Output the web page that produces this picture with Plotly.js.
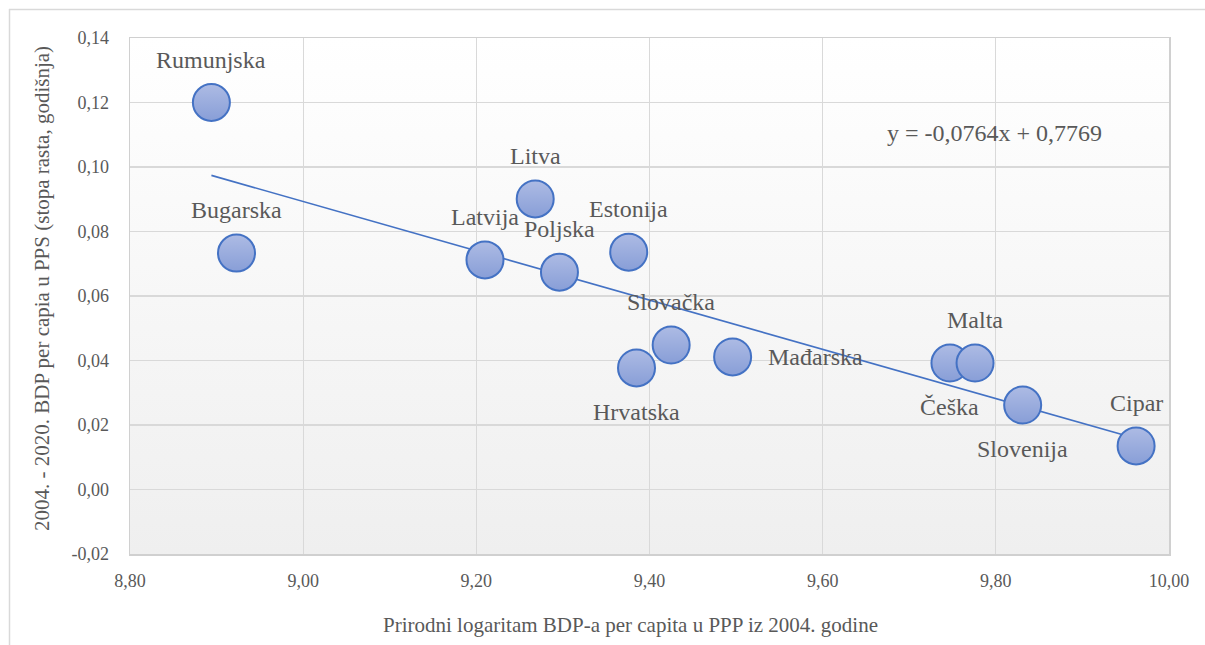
<!DOCTYPE html>
<html>
<head>
<meta charset="utf-8">
<script src="https://cdn.plot.ly/plotly-3.0.1.min.js"></script>
<style>
  html, body { margin: 0; padding: 0; background: #ffffff; }
  #chart { width: 1205px; height: 645px; }
</style>
</head>
<body>
<div id="chart"></div>
<script>
// ---- data ----
const countries = ['Rumunjska', 'Bugarska', 'Litva', 'Latvija', 'Poljska', 'Estonija', 'Slovačka',
                   'Hrvatska', 'Mađarska', 'Češka', 'Malta', 'Slovenija', 'Cipar'];
const lnGdp2004 = [8.894, 8.923, 9.268, 9.210, 9.296, 9.376, 9.425,
                   9.385, 9.496, 9.747, 9.776, 9.831, 9.962];
const growth = [0.1200, 0.0733, 0.0901, 0.0712, 0.0674, 0.0736, 0.0448,
                0.0377, 0.0411, 0.0392, 0.0392, 0.0262, 0.0135];
const trendSlope = -0.0764;
const trendIntercept = 0.7769;

const xTickVals = [8.80, 9.00, 9.20, 9.40, 9.60, 9.80, 10.00];
const xTickText = ['8,80', '9,00', '9,20', '9,40', '9,60', '9,80', '10,00'];
const yTickVals = [-0.02, 0.00, 0.02, 0.04, 0.06, 0.08, 0.10, 0.12, 0.14];
const yTickText = ['-0,02', '0,00', '0,02', '0,04', '0,06', '0,08', '0,10', '0,12', '0,14'];

const xTitle = 'Prirodni logaritam BDP-a per capita u PPP iz 2004. godine';
const yTitle = '2004. - 2020. BDP per capia u PPS (stopa rasta, godišnja)';

// ---- label placement (style only) ----
const labelPlacement = ['top', 'top', 'top', 'top', 'top', 'top', 'top',
                        'bottom', 'right', 'bottom', 'top', 'bottom', 'top'];

const textColor = '#595959';
const serif = 'Liberation Serif';

// trendline across the data range, from the equation shown on the chart
const xMin = Math.min(...lnGdp2004), xMax = Math.max(...lnGdp2004);
const trendX = [xMin, xMax];
const trendY = trendX.map(v => trendSlope * v + trendIntercept);

const fmt = v => Math.abs(v).toFixed(4).replace('.', ',');
const eqText = 'y = ' + (trendSlope < 0 ? '-' : '') + fmt(trendSlope) + 'x ' +
               (trendIntercept < 0 ? '- ' : '+ ') + fmt(trendIntercept);

const traces = [
  {
    x: trendX, y: trendY, type: 'scatter', mode: 'lines',
    line: { color: '#4472C4', width: 1.6 },
    hoverinfo: 'skip', showlegend: false
  },
  {
    x: lnGdp2004, y: growth, type: 'scatter', mode: 'markers',
    text: countries,
    marker: {
      size: 37,
      color: '#adbbe4',
      gradient: { type: 'vertical', color: '#889ed7' },
      line: { color: '#4472C4', width: 2 }
    },
    showlegend: false
  }
];

const L = 130, R = 1169, T = 38, B = 554, W = 1205, H = 645;
const px = v => (v - L) / (R - L);
const py = v => (B - v) / (B - T);

const annotations = countries.map((name, i) => {
  const p = labelPlacement[i];
  return {
    x: lnGdp2004[i], y: growth[i], xref: 'x', yref: 'y',
    text: name, showarrow: false,
    xanchor: p === 'right' ? 'left' : 'center',
    yanchor: 'middle',
    xshift: p === 'right' ? 33 : 0,
    yshift: p === 'top' ? 43 : (p === 'bottom' ? -44 : 0),
    font: { family: serif, size: 24, color: textColor }
  };
});
annotations.push({
  x: 9.798, y: 0.1105, xref: 'x', yref: 'y', text: eqText, showarrow: false,
  xanchor: 'center', yanchor: 'middle',
  font: { family: serif, size: 24, color: textColor }
});
// axis titles
annotations.push({
  x: px(630), y: py(625), xref: 'paper', yref: 'paper', text: xTitle, showarrow: false,
  xanchor: 'center', yanchor: 'middle',
  font: { family: serif, size: 21, color: textColor }
});
annotations.push({
  x: px(42), y: py(289), xref: 'paper', yref: 'paper', text: yTitle, showarrow: false,
  textangle: -90, xanchor: 'center', yanchor: 'middle',
  font: { family: serif, size: 21, color: textColor }
});

// plot area background gradient (white to light gray), as an SVG data URI
const gradSvg = '<svg xmlns="http://www.w3.org/2000/svg" width="10" height="100" preserveAspectRatio="none">' +
  '<defs><linearGradient id="g" x1="0" y1="0" x2="0" y2="1">' +
  '<stop offset="0" stop-color="#ffffff"/><stop offset="1" stop-color="#efefef"/>' +
  '</linearGradient></defs><rect width="10" height="100" fill="url(#g)"/></svg>';
const gradUri = 'data:image/svg+xml;charset=utf-8,' + encodeURIComponent(gradSvg);

const layout = {
  width: W, height: H,
  margin: { l: L, r: W - R, t: T, b: H - B, pad: 0 },
  paper_bgcolor: '#ffffff',
  plot_bgcolor: 'rgba(0,0,0,0)',
  separators: ',.',
  font: { family: serif, color: textColor, size: 18 },
  xaxis: {
    range: [8.80, 10.00], tickvals: xTickVals, ticktext: xTickText,
    showgrid: true, gridcolor: '#d9d9d9', gridwidth: 1.3,
    zeroline: false, showline: true, linecolor: '#d0d0d0', linewidth: 1.5, mirror: true,
    ticks: '', ticklabelstandoff: 10,
    tickfont: { family: serif, size: 18, color: textColor },
    automargin: false
  },
  yaxis: {
    range: [-0.02, 0.14], tickvals: yTickVals, ticktext: yTickText,
    showgrid: true, gridcolor: '#d9d9d9', gridwidth: 1.3,
    zeroline: false, showline: true, linecolor: '#d0d0d0', linewidth: 1.5, mirror: true,
    ticks: '', ticklabelstandoff: 16,
    tickfont: { family: serif, size: 18, color: textColor },
    automargin: false
  },
  images: [{
    source: gradUri, xref: 'paper', yref: 'paper', x: 0, y: 1, sizex: 1, sizey: 1,
    xanchor: 'left', yanchor: 'top', sizing: 'stretch', layer: 'below'
  }],
  shapes: [
    { type: 'line', xref: 'paper', yref: 'paper', x0: px(9.5), x1: px(9.5), y0: py(9), y1: py(H + 5),
      line: { color: '#d9d9d9', width: 1.5 } },
    { type: 'line', xref: 'paper', yref: 'paper', x0: px(9), x1: px(W + 5), y0: py(9.5), y1: py(9.5),
      line: { color: '#d9d9d9', width: 1.5 } }
  ],
  annotations: annotations,
  showlegend: false,
  hovermode: 'closest'
};

Plotly.newPlot('chart', traces, layout, { displayModeBar: false, staticPlot: true });
</script>
</body>
</html>
